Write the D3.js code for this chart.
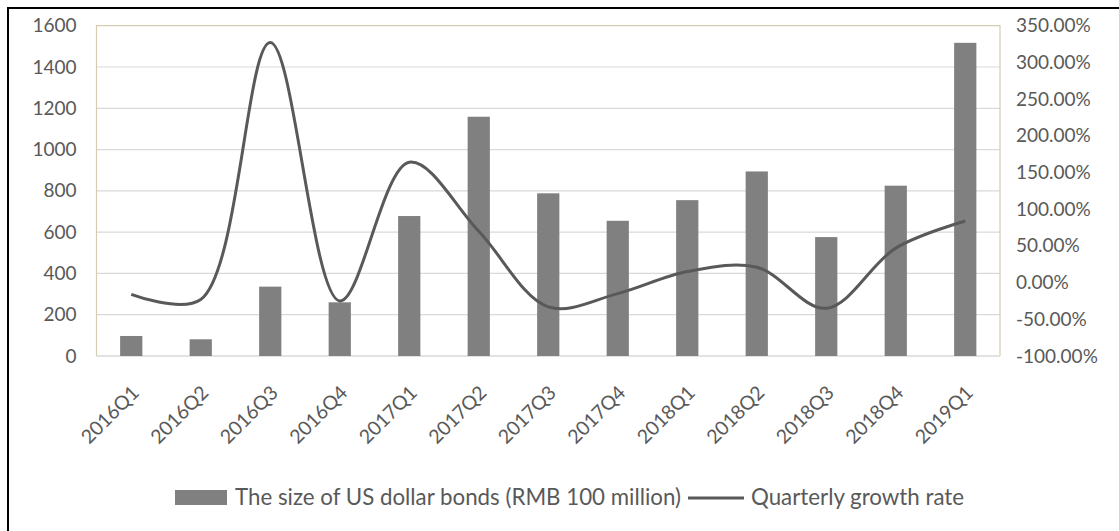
<!DOCTYPE html>
<html>
<head>
<meta charset="utf-8">
<script src="https://cdn.jsdelivr.net/npm/d3@7"></script>
<style>
  html, body { margin: 0; padding: 0; background: #fff; }
  svg { display: block; }
  text { font-family: Lato, "Open Sans", sans-serif; fill: #595959; }
</style>
</head>
<body>
<svg id="chart" width="1119" height="531"></svg>
<script>
const categories = ["2016Q1","2016Q2","2016Q3","2016Q4","2017Q1","2017Q2","2017Q3","2017Q4","2018Q1","2018Q2","2018Q3","2018Q4","2019Q1"];
const bondSize = [97, 81, 336, 260, 678, 1159, 788, 655, 755, 894, 576, 825, 1517];
const growthRate = [-0.16, -0.23, 3.27, -0.25, 1.64, 0.70, -0.33, -0.15, 0.15, 0.21, -0.35, 0.47, 0.84];
const leftTicks = [0, 200, 400, 600, 800, 1000, 1200, 1400, 1600];
const rightTicks = [-1, -0.5, 0, 0.5, 1, 1.5, 2, 2.5, 3, 3.5];
const seriesNames = ["The size of US dollar bonds (RMB 100 million)", "Quarterly growth rate"];

const svg = d3.select("#chart");
const plot = { left: 96.5, right: 1000, top: 25.7, bottom: 356 };

const x = d3.scaleBand().domain(categories).range([plot.left, plot.right]).paddingInner(0.68).paddingOuter(0.34);
const yL = d3.scaleLinear().domain([0, 1600]).range([plot.bottom, plot.top]);
const yR = d3.scaleLinear().domain([-1, 3.5]).range([plot.bottom, plot.top]);
const pct = d3.formatLocale({decimal: ".", thousands: ",", grouping: [3], currency: ["", ""], minus: "-"}).format(".2%");

// outer frame
svg.append("path").attr("d", "M8,540 L8,8 L1130,8").attr("fill", "none").attr("stroke", "#000").attr("stroke-width", 2);

// gridlines
svg.append("g").selectAll("line").data(leftTicks.slice(1, -1)).join("line")
  .attr("x1", plot.left).attr("x2", plot.right)
  .attr("y1", d => yL(d)).attr("y2", d => yL(d))
  .attr("stroke", "#d9d9d9").attr("stroke-width", 1.2);

// plot frame (beige)
svg.append("path")
  .attr("d", `M${plot.left},${plot.bottom} L${plot.left},${plot.top} L${plot.right},${plot.top} L${plot.right},${plot.bottom}`)
  .attr("fill", "none").attr("stroke", "#d6cdb0").attr("stroke-width", 1.2);
// bottom axis line
svg.append("line").attr("x1", plot.left).attr("x2", plot.right)
  .attr("y1", yL(0)).attr("y2", yL(0)).attr("stroke", "#d9d9d9").attr("stroke-width", 1.5);

// bars
svg.append("g").selectAll("rect").data(categories).join("rect")
  .attr("x", d => x(d)).attr("width", x.bandwidth())
  .attr("y", (d, i) => yL(bondSize[i]))
  .attr("height", (d, i) => yL(0) - yL(bondSize[i]))
  .attr("fill", "#808080");

// line
const line = d3.line()
  .x((d, i) => x(categories[i]) + x.bandwidth() / 2)
  .y(d => yR(d))
  .curve(d3.curveCatmullRom.alpha(0.5));
svg.append("path").datum(growthRate).attr("d", line)
  .attr("fill", "none").attr("stroke", "#595959").attr("stroke-width", 3);

// left axis
const gL = svg.append("g").attr("transform", `translate(${plot.left},0)`)
  .call(d3.axisLeft(yL).tickValues(leftTicks).tickFormat(d3.format("d")).tickSize(0).tickPadding(20));
gL.select(".domain").remove();
gL.selectAll("text").style("font-size", "19px").attr("fill", "#595959");

// right axis
const gR = svg.append("g").attr("transform", `translate(${plot.right},0)`)
  .call(d3.axisRight(yR).tickValues(rightTicks).tickFormat(pct).tickSize(0).tickPadding(16));
gR.select(".domain").remove();
gR.selectAll("text").style("font-size", "19px").attr("fill", "#595959");

// x axis labels
const gX = svg.append("g").attr("transform", `translate(0,${plot.bottom})`)
  .call(d3.axisBottom(x).tickSize(0));
gX.select(".domain").remove();
gX.selectAll(".tick text")
  .attr("y", 0).attr("dy", 0)
  .attr("transform", "translate(9,38) rotate(-45)")
  .style("text-anchor", "end")
  .style("font-size", "19.5px").attr("fill", "#595959");

// legend
const lg = svg.append("g");
lg.append("rect").attr("x", 175).attr("y", 490).attr("width", 52).attr("height", 15).attr("fill", "#808080");
lg.append("text").attr("x", 235).attr("y", 505).style("font-size", "22.3px").text(seriesNames[0]);
lg.append("line").attr("x1", 688).attr("x2", 744).attr("y1", 498).attr("y2", 498).attr("stroke", "#595959").attr("stroke-width", 3);
lg.append("text").attr("x", 751).attr("y", 505).style("font-size", "22.3px").text(seriesNames[1]);
</script>
</body>
</html>
